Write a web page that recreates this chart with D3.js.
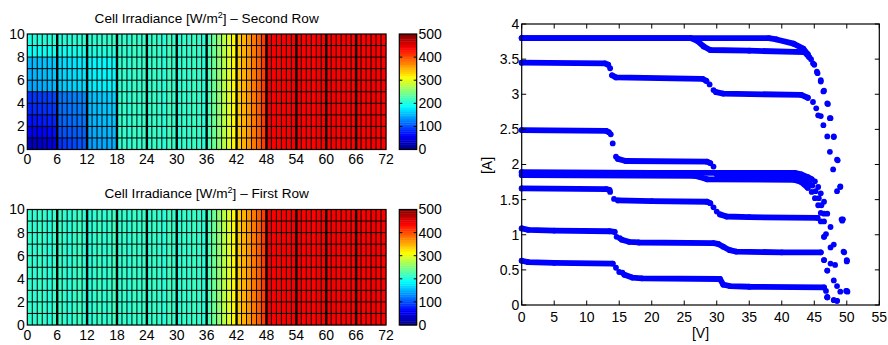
<!DOCTYPE html>
<html><head><meta charset="utf-8">
<script src="https://cdn.jsdelivr.net/npm/d3@7/dist/d3.min.js"></script>
<style>
html,body{margin:0;padding:0;background:#fff;}
svg{display:block;}
text{font-family:"Liberation Sans",Arial,Helvetica,sans-serif;fill:#000;}
</style></head><body>
<svg id="chart" width="888" height="345"></svg>
<script>
// ---------------- DATA ----------------
const heatXTicks = [0,6,12,18,24,30,36,42,48,54,60,66,72];
const heatYTicks = [0,2,4,6,8,10];
const colorTicks = [0,100,200,300,400,500];
const ivXTicks = [0,5,10,15,20,25,30,35,40,45,50,55];
const ivYTicks = [0,0.5,1,1.5,2,2.5,3,3.5,4];
const ivYTickLabels = ["0","0.5","1","1.5","2","2.5","3","3.5","4"];

// First row: irradiance per cell column (uniform over the 10 cell rows)
const firstRowCols = [
  212,208,215,210,206,214, 216,210,207,213,218,209,
  205,211,216,208,213,219, 210,214,207,217,211,215,
  209,216,212,207,218,213, 206,214,210,217,212,208,
  222,240,258,278,297,314, 338,350,364,378,393,408,
  445,440,438,442,439,441, 443,438,440,437,441,439,
  440,442,438,441,439,437, 441,438,440,443,439,438
];
// Second row: shaded left part (cell rows y=0 bottom .. y=9 top, columns 0..17); rest as first row
const secondRowLeft = [
  [30,34,38,42,46,50, 86,90,94,98,102,106, 140,142,144,146,148,150],
  [58,60,62,64,66,68, 101,103,105,107,109,111, 145,147,149,151,153,155],
  [70,72,74,76,78,80, 111,113,115,117,119,121, 150,152,154,156,158,160],
  [80,82,84,86,88,90, 116,118,120,122,124,126, 153,155,157,159,161,163],
  [86,88,90,92,94,96, 120,122,124,126,128,130, 156,158,160,162,164,166],
  [142,144,146,148,150,152, 161,163,165,167,169,171, 180,181,182,183,184,185],
  [149,151,153,155,157,159, 166,168,170,172,174,176, 182,183,184,185,186,187],
  [152,154,156,158,160,162, 170,172,174,176,178,180, 184,185,186,187,188,189],
  [190,191,192,193,194,195, 194,195,196,197,198,199, 201,202,203,204,205,206],
  [201,203,204,205,206,207, 205,206,207,208,209,210, 209,210,211,212,213,214]
];

// I-V curves [V, A]: dense parts (null = gap) and separate dots
const c1Band = [[0,3.8],[38,3.8],[39.2,3.78],[41.8,3.72],[43.3,3.65],[44.0,3.57]];
const c1Dots = [[44.5,3.5],[45.0,3.42],[45.4,3.32],[46.0,3.18],[46.5,3.05],[47.0,2.87],[47.5,2.66],[48.0,2.40],[48.5,2.07],[49.0,1.68],[49.4,1.22],[50.0,0.63],[50.1,0.19]];
const c2Band = [[0,3.8],[26,3.8],[27,3.76],[28,3.68],[29,3.63],[35,3.62],[43.5,3.6],[44.2,3.53]];
const c2Dots = [[44.8,3.44],[45.5,3.3],[46.0,3.2],[46.4,3.04],[47.1,2.86],[47.4,2.66],[48.0,2.39],[48.6,2.06],[49.0,1.69],[49.3,1.2],[49.6,0.75],[50.0,0.62],[49.9,0.2]];
const c3Band = [[0,3.45],[12.8,3.44],[13.3,3.42],null,[13.9,3.27],[14.5,3.24],[27.8,3.22],[28.4,3.19],null,[29.9,3.03],[31,3.01],[43,2.99],[44,2.95]];
const c3Dots = [[13.6,3.37],[28.9,3.14],[29.5,3.06],[44.8,2.89],[45.3,2.80],[45.6,2.70],[46.0,2.69],[46.4,2.56],[47.0,2.40],[47.4,2.18],[47.9,1.93],[48.5,1.62],[49.2,1.22],[49.5,0.76],[50.0,0.64]];
const c4Band = [[0,2.49],[13.0,2.48],[13.4,2.46],null,[14.8,2.08],[16,2.05],[28.5,2.04],[29.0,2.02],null,[30,1.86],[35,1.85],[42.5,1.84],[43.5,1.8],[44.2,1.74]];
const c4Dots = [[13.7,2.43],[14.0,2.3],[14.5,2.11],[29.5,1.97],[44.7,1.7],[45.2,1.62],[45.7,1.52],[46.1,1.42],[46.5,1.3],[46.8,1.01],[47.5,0.82],[47.5,0.59],[48.0,0.35],[48.0,0.07]];
const c5Band = [[0,1.89],[20,1.88],[42,1.88],[43,1.86],[44,1.82],[44.6,1.79]];
const c5Dots = [[45.1,1.76],[45.6,1.68],[46.0,1.59],[46.5,1.47],[47.0,1.30],[47.5,1.11],[48.0,0.86],[48.2,0.57],[48.5,0.27],[48.5,0.06]];
const c6Band = [[0,1.85],[26.5,1.84],[27.5,1.82],[28.5,1.79],[42,1.78],[43,1.75],[44,1.67]];
const c6Dots = [[44.6,1.61],[45.1,1.52],[45.6,1.42],[46.0,1.31],[46.5,1.19],[46.5,0.97],[47.0,0.49],[47.0,0.11]];
const c7Band = [[0,1.66],[13.0,1.65],[13.5,1.64],null,[14.8,1.49],[20,1.48],[28.5,1.47],[29.0,1.45],null,[30.5,1.29],[31.5,1.26],[35,1.25],[45.5,1.24]];
const c7Dots = [[13.6,1.61],[14.2,1.51],[29.5,1.39],[30,1.33],[46.0,1.19],[46.5,0.97],[46.5,0.64],[49.0,0.19]];
const c8Band = [[0,1.09],[1,1.07],[5,1.06],[13.5,1.05],[14.3,1.04],null,[15.4,0.93],[16.5,0.9],[18,0.89],[29.5,0.88],[30.2,0.87],[31,0.83],[32,0.78],[33,0.76],[40,0.75],[46,0.75]];
const c8Dots = [[14.6,0.97],[15.1,0.95],[46.5,0.64],[47.0,0.49],[47.0,0.11]];
const c9Band = [[0,0.63],[1,0.61],[5,0.6],[14,0.59],null,[15.8,0.43],[17,0.39],[18.5,0.38],[30.5,0.37],[31,0.29],[32,0.27],[35,0.26],[46.5,0.25]];
const c9Dots = [[14.5,0.53],[15.0,0.47],[15.5,0.46],[46.8,0.2],[47.0,0.11],[48.0,0.07],[48.5,0.06],[50.0,0.2]];

const ivCurves = [[c1Band,c1Dots],[c2Band,c2Dots],[c3Band,c3Dots],[c4Band,c4Dots],[c5Band,c5Dots],[c6Band,c6Dots],[c7Band,c7Dots],[c8Band,c8Dots],[c9Band,c9Dots]];

// ---------------- DRAW ----------------
const svg = d3.select('#chart');
const FONT = 14;

function jetInterp(t){
  t = Math.max(0, Math.min(1, t));
  const c = v => Math.round(255*Math.max(0, Math.min(1, v)));
  return d3.rgb(c(Math.min(4*t-1.5, -4*t+4.5)), c(Math.min(4*t-0.5, -4*t+3.5)), c(Math.min(4*t+0.5, -4*t+2.5))).toString();
}
const color = d3.scaleSequential(jetInterp).domain([0,500]);

function heatmap(top, bottom, valueAt, titleRest, titleBase){
  const L = 27.3, R = 386;
  const x = d3.scaleLinear().domain([0,72]).range([L,R]);
  const y = d3.scaleLinear().domain([0,10]).range([bottom,top]);
  const g = svg.append('g');
  const cells = [];
  for (let r=0;r<10;r++) for (let c=0;c<72;c++) cells.push({c, r, v: valueAt(c,r)});
  g.selectAll('rect.cell').data(cells).enter().append('rect')
    .attr('x', d=>x(d.c)).attr('y', d=>y(d.r+1))
    .attr('width', d=>x(d.c+1)-x(d.c)+0.3).attr('height', d=>y(d.r)-y(d.r+1)+0.3)
    .attr('fill', d=>color(d.v));
  // cell edges
  g.selectAll('line.v').data(d3.range(1,72)).enter().append('line')
    .attr('x1', d=>x(d)).attr('x2', d=>x(d)).attr('y1', top).attr('y2', bottom)
    .attr('stroke','#000').attr('stroke-width', d=> d%6===0 ? 2.4 : 1.0);
  g.selectAll('line.h').data(d3.range(1,10)).enter().append('line')
    .attr('x1', L).attr('x2', R).attr('y1', d=>y(d)).attr('y2', d=>y(d))
    .attr('stroke','#000').attr('stroke-width', 1.0);
  g.append('rect').attr('x',L).attr('y',top).attr('width',R-L).attr('height',bottom-top)
    .attr('fill','none').attr('stroke','#000').attr('stroke-width',1.2);
  // axis labels
  g.selectAll('text.xt').data(heatXTicks).enter().append('text')
    .attr('x', d=>x(d)).attr('y', bottom+14.5).attr('text-anchor','middle')
    .attr('font-size', FONT).text(d=>d);
  g.selectAll('text.yt').data(heatYTicks).enter().append('text')
    .attr('x', L-2.5).attr('y', d=>y(d)).attr('dy','0.35em').attr('text-anchor','end')
    .attr('font-size', FONT).text(d=>d);
  // title
  const t = g.append('text').attr('x',(L+R)/2).attr('y',titleBase).attr('text-anchor','middle').attr('font-size',13.6);
  t.append('tspan').text('Cell Irradiance [W/m');
  t.append('tspan').attr('font-size',9).attr('dy',-5).text('2');
  t.append('tspan').attr('dy',5).text('] \u2013 ' + titleRest);
  // colorbar
  const CL = 399.3, CR = 416.7;
  const cy = d3.scaleLinear().domain([0,500]).range([bottom,top]);
  const steps = d3.range(0,500,500/64);
  g.selectAll('rect.cb').data(steps).enter().append('rect')
    .attr('x',CL).attr('width',CR-CL)
    .attr('y', d=>cy(d+500/64)).attr('height', d=>cy(d)-cy(d+500/64)+0.4)
    .attr('fill', d=>color(d+500/128));
  g.append('rect').attr('x',CL).attr('y',top).attr('width',CR-CL).attr('height',bottom-top)
    .attr('fill','none').attr('stroke','#000').attr('stroke-width',1.2);
  g.selectAll('line.cbt').data(colorTicks.slice(1,-1)).enter().append('line')
    .attr('x1',CR-3).attr('x2',CR).attr('y1',d=>cy(d)).attr('y2',d=>cy(d)).attr('stroke','#000');
  g.selectAll('line.cbt2').data(colorTicks.slice(1,-1)).enter().append('line')
    .attr('x1',CL).attr('x2',CL+3).attr('y1',d=>cy(d)).attr('y2',d=>cy(d)).attr('stroke','#000');
  g.selectAll('text.cbl').data(colorTicks).enter().append('text')
    .attr('x', CR+1.8).attr('y', d=>cy(d)).attr('dy','0.35em').attr('font-size',FONT).text(d=>d);
}

heatmap(34, 149.5, (c,r)=> c < secondRowLeft[r].length ? secondRowLeft[r][c] : firstRowCols[c], 'Second Row', 22.6);
heatmap(209.5, 325, (c,r)=> firstRowCols[c], 'First Row', 197.8);

// ---- I-V plot ----
(function(){
  const L=521.7, R=879.3, T=24, B=305;
  const x = d3.scaleLinear().domain([0,55]).range([L,R]);
  const y = d3.scaleLinear().domain([0,4]).range([B,T]);
  const g = svg.append('g');
  const blue = '#0000ff';
  const line = d3.line().defined(d=>d!=null).x(d=>x(d[0])).y(d=>y(d[1]));
  g.selectAll('path.band').data(ivCurves).enter().append('path')
    .attr('d', d=>line(d[0])).attr('fill','none').attr('stroke',blue)
    .attr('stroke-width',5.8).attr('stroke-linecap','round').attr('stroke-linejoin','round');
  const pts = [];
  ivCurves.forEach(cv => { cv[0].forEach(p=>{ if(p) pts.push(p); }); cv[1].forEach(p=>pts.push(p)); });
  g.selectAll('circle').data(pts).enter().append('circle')
    .attr('cx', d=>x(d[0])).attr('cy', d=>y(d[1])).attr('r',2.9).attr('fill',blue);
  // box
  g.append('rect').attr('x',L).attr('y',T).attr('width',R-L).attr('height',B-T)
    .attr('fill','none').attr('stroke','#000').attr('stroke-width',1.2);
  const TL = 4.5;
  g.selectAll('line.xb').data(ivXTicks).enter().append('line')
    .attr('x1',d=>x(d)).attr('x2',d=>x(d)).attr('y1',B).attr('y2',B-TL).attr('stroke','#000');
  g.selectAll('line.xt').data(ivXTicks).enter().append('line')
    .attr('x1',d=>x(d)).attr('x2',d=>x(d)).attr('y1',T).attr('y2',T+TL).attr('stroke','#000');
  g.selectAll('line.yl').data(ivYTicks).enter().append('line')
    .attr('x1',L).attr('x2',L+TL).attr('y1',d=>y(d)).attr('y2',d=>y(d)).attr('stroke','#000');
  g.selectAll('line.yr').data(ivYTicks).enter().append('line')
    .attr('x1',R).attr('x2',R-TL).attr('y1',d=>y(d)).attr('y2',d=>y(d)).attr('stroke','#000');
  g.selectAll('text.xl').data(ivXTicks).enter().append('text')
    .attr('x',d=>x(d)).attr('y',322).attr('text-anchor','middle').attr('font-size',FONT).text(d=>d);
  g.selectAll('text.yl').data(ivYTicks).enter().append('text')
    .attr('x',L-2.5).attr('y',d=>y(d)).attr('dy','0.35em').attr('text-anchor','end').attr('font-size',FONT)
    .text((d,i)=>ivYTickLabels[i]);
  g.append('text').attr('x',(L+R)/2).attr('y',338).attr('text-anchor','middle').attr('font-size',FONT).text('[V]');
  g.append('text').attr('transform','translate(492,165.5) rotate(-90)').attr('text-anchor','middle').attr('font-size',FONT).text('[A]');
})();
</script>
</body></html>
